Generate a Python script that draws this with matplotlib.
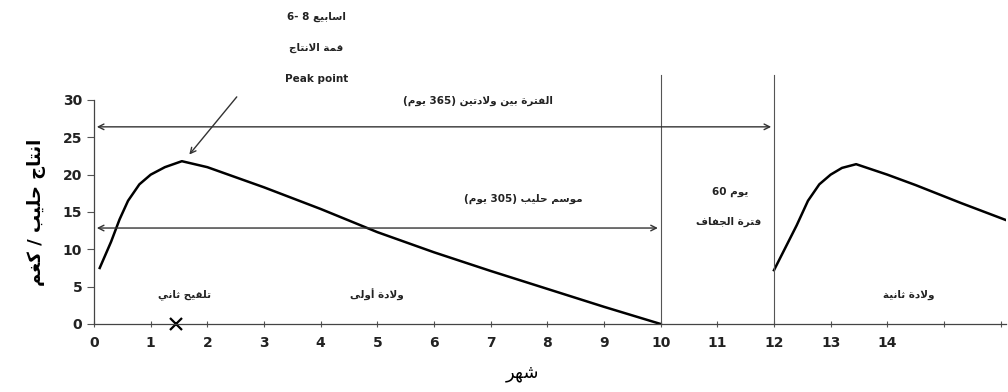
import re
import matplotlib
matplotlib.use("Agg")
import matplotlib.pyplot as plt

# ---- data ----
lact1_month = [0.1, 0.3, 0.45, 0.6, 0.8, 1.0, 1.25, 1.55, 2.0, 3.0, 4.0, 5.0, 6.0, 7.0, 8.0, 9.0, 10.0]
lact1_milk = [7.5, 11.0, 14.0, 16.5, 18.7, 20.0, 21.0, 21.8, 21.0, 18.3, 15.4, 12.3, 9.6, 7.1, 4.7, 2.3, 0.0]

lact2_month = [12.0, 12.2, 12.4, 12.6, 12.8, 13.0, 13.2, 13.45, 14.0, 14.5, 15.3, 16.1]
lact2_milk = [7.2, 10.2, 13.2, 16.5, 18.7, 20.0, 20.9, 21.4, 20.0, 18.6, 16.2, 13.9]

x_ticks = list(range(0, 17))
x_tick_labels = [str(i) for i in range(0, 15)] + ["", ""]
y_ticks = [0, 5, 10, 15, 20, 25, 30]

dry_start = 10
calving2 = 12
insemination = 1.45

# ---- tiny arabic shaper + rtl ordering (matplotlib has no complex text layout) ----
DUAL = {'ئ': 0xFE89, 'ب': 0xFE8F, 'ت': 0xFE95, 'ث': 0xFE99, 'ج': 0xFE9D, 'ح': 0xFEA1,
        'خ': 0xFEA5, 'س': 0xFEB1, 'ش': 0xFEB5, 'ص': 0xFEB9, 'ض': 0xFEBD, 'ط': 0xFEC1,
        'ظ': 0xFEC5, 'ع': 0xFEC9, 'غ': 0xFECD, 'ف': 0xFED1, 'ق': 0xFED5, 'ك': 0xFED9,
        'ل': 0xFEDD, 'م': 0xFEE1, 'ن': 0xFEE5, 'ه': 0xFEE9, 'ي': 0xFEF1}
RIGHT = {'آ': 0xFE81, 'أ': 0xFE83, 'ؤ': 0xFE85, 'إ': 0xFE87, 'ا': 0xFE8D, 'ة': 0xFE93,
         'د': 0xFEA9, 'ذ': 0xFEAB, 'ر': 0xFEAD, 'ز': 0xFEAF, 'و': 0xFEED, 'ى': 0xFEEF}
LAMALEF = {'آ': 0xFEF5, 'أ': 0xFEF7, 'إ': 0xFEF9, 'ا': 0xFEFB}
MIRROR = {'(': ')', ')': '('}


def shape_word(w):
    out = []
    prev_dual = False
    i = 0
    while i < len(w):
        c = w[i]
        nxt = w[i + 1] if i + 1 < len(w) else None
        if c == 'ل' and nxt in LAMALEF:
            out.append(chr(LAMALEF[nxt] + (1 if prev_dual else 0)))
            prev_dual = False
            i += 2
            continue
        if c in DUAL:
            to_next = nxt is not None and (nxt in DUAL or nxt in RIGHT)
            if prev_dual and to_next:
                off = 3
            elif prev_dual:
                off = 1
            elif to_next:
                off = 2
            else:
                off = 0
            out.append(chr(DUAL[c] + off))
            prev_dual = to_next
        elif c in RIGHT:
            out.append(chr(RIGHT[c] + (1 if prev_dual else 0)))
            prev_dual = False
        else:
            out.append(MIRROR.get(c, c))
            prev_dual = False
        i += 1
    return "".join(reversed(out))


def rtl(s):
    words = []
    for w in reversed(s.split(' ')):
        runs = re.findall(r'[0-9A-Za-z]+|[^0-9A-Za-z]+', w)
        words.append("".join(r if r[0].isalnum() and r.isascii() else shape_word(r)
                             for r in reversed(runs)))
    return " ".join(words)


plt.rcParams['font.family'] = ['DejaVu Sans']

fig = plt.figure(figsize=(10.08, 3.92), dpi=100)
ax = fig.add_axes([0.0933, 0.1735, 0.905, 0.5715])

ax.plot(lact1_month, lact1_milk, c='black', lw=1.8)
ax.plot(lact2_month, lact2_milk, c='black', lw=1.8)
ax.plot([insemination], [0], marker='x', ms=9, mew=1.6, c='black', clip_on=False)

# dry period boundaries
for xv in [dry_start, calving2]:
    ax.plot([xv, xv], [0, 33.3], c='#555555', lw=0.8, clip_on=False)

# period arrows
ax.annotate("", xy=(0, 26.4), xytext=(calving2, 26.4),
            arrowprops=dict(arrowstyle='<->', color='#333333', lw=1.0), annotation_clip=False)
ax.annotate("", xy=(0, 12.85), xytext=(dry_start, 12.85),
            arrowprops=dict(arrowstyle='<->', color='#333333', lw=1.0), annotation_clip=False)
ax.annotate("", xy=(1.65, 22.4), xytext=(2.55, 30.7),
            arrowprops=dict(arrowstyle='->', color='#333333', lw=1.0), annotation_clip=False)

tk = dict(ha='center', va='center', fontsize=7.5, fontweight='bold', color='#222222', clip_on=False)
ax.text(3.92, 41.1, "6- 8 " + rtl("اسابيع"), **tk)
ax.text(3.92, 37.0, rtl("قمة الانتاج"), **tk)
ax.text(3.92, 32.8, "Peak point", **tk)
ax.text(6.78, 29.85, rtl("الفترة بين ولادتين (365 يوم)"), **tk)
ax.text(7.57, 16.7, rtl("موسم حليب (305 يوم)"), **tk)
ax.text(11.23, 17.7, rtl("يوم 60"), **tk)
ax.text(11.2, 13.65, rtl("فترة الجفاف"), **tk)
ax.text(1.6, 3.9, rtl("تلقيح ثاني"), **tk)
ax.text(4.99, 3.9, rtl("ولادة أولى"), **tk)
ax.text(14.38, 3.9, rtl("ولادة ثانية"), **tk)

ax.set_xlim(0, 16.1)
ax.set_ylim(0, 30)
ax.set_xticks(x_ticks)
ax.set_xticklabels(x_tick_labels)
ax.set_yticks(y_ticks)
ax.tick_params(axis='x', direction='inout', length=5, width=0.8, colors='#555555', labelcolor='#222222', pad=6)
ax.tick_params(axis='y', direction='out', length=5, width=0.8, colors='#555555', labelcolor='#222222')
for lab in ax.get_xticklabels() + ax.get_yticklabels():
    lab.set_fontweight('bold')
    lab.set_fontsize(10)

for s in ['top', 'right']:
    ax.spines[s].set_visible(False)
for s in ['left', 'bottom']:
    ax.spines[s].set_color('#444444')
    ax.spines[s].set_linewidth(0.9)

ax.set_xlabel(rtl("شهر"), fontsize=13, labelpad=10, x=0.47)
ax.set_ylabel(rtl("انتاج حليب / كغم"), fontsize=13, fontweight='bold', labelpad=12)

fig.savefig("out.png", dpi=100)
